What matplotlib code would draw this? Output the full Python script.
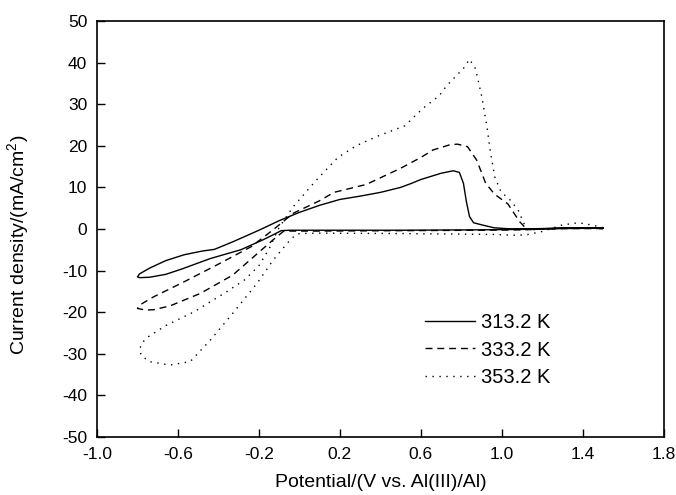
import numpy as np
import matplotlib
matplotlib.use("Agg")
import matplotlib.pyplot as plt

plt.rcParams['font.family'] = ['Liberation Sans', 'DejaVu Sans']
plt.rcParams['mathtext.fontset'] = 'custom'
plt.rcParams['mathtext.rm'] = 'Liberation Sans'
plt.rcParams['mathtext.it'] = 'Liberation Sans:italic'
plt.rcParams['axes.unicode_minus'] = False

# 313.2 K (loop: 1.5 V -> -0.8 V -> 1.5 V)
E_313 = [1.5, 1.3, 1.1, 0.9, 0.5, 0.1, -0.05, -0.09,
         -0.13, -0.18, -0.29, -0.44, -0.58, -0.66, -0.74, -0.79, -0.80,
         -0.79, -0.74, -0.66, -0.57, -0.48, -0.42, -0.33, -0.2, -0.1, 0.0,
         0.1, 0.2, 0.3, 0.4, 0.5, 0.55, 0.6, 0.7, 0.76, 0.79, 0.81, 0.825,
         0.84, 0.86, 0.9, 0.96, 1.05, 1.2, 1.3, 1.4, 1.5]
j_313 = [0.2, 0.1, -0.1, -0.2, -0.3, -0.3, -0.3, -0.4,
         -1.4, -2.6, -5.0, -7.1, -9.6, -10.9, -11.6, -11.7, -11.5,
         -10.8, -9.4, -7.6, -6.2, -5.3, -4.9, -3.1, -0.3, 2.0, 4.0,
         5.7, 7.1, 7.9, 8.8, 10.0, 10.9, 11.9, 13.4, 14.0, 13.6, 11.0, 6.5,
         3.0, 1.5, 1.0, 0.3, 0.0, 0.1, 0.3, 0.3, 0.2]

# 333.2 K
E_333 = [1.5, 1.3, 1.1, 0.9, 0.5, 0.1, -0.05, -0.08,
         -0.13, -0.21, -0.33, -0.49, -0.64, -0.72, -0.76, -0.80,
         -0.79, -0.72, -0.57, -0.41, -0.24, -0.13, -0.03, 0.1, 0.17,
         0.33, 0.5, 0.6, 0.66, 0.74, 0.78, 0.83, 0.875, 0.92, 0.963,
         1.03, 1.087, 1.12, 1.2, 1.3, 1.4, 1.5]
j_333 = [0.1, 0.1, -0.2, -0.3, -0.4, -0.5, -0.5, -0.6,
         -2.6, -6.0, -11.1, -15.5, -18.5, -19.4, -19.5, -19.1,
         -18.3, -16.3, -12.7, -8.7, -4.3, -0.2, 3.8, 6.8, 8.8,
         10.7, 14.6, 17.2, 19.0, 20.2, 20.4, 19.8, 16.6, 11.0, 8.4,
         6.0, 1.8, 0.1, 0.0, 0.2, 0.2, 0.1]

# 353.2 K
E_353 = [1.5, 1.45, 1.38, 1.3, 1.25, 1.2, 1.12, 1.05, 0.95, 0.5, 0.1, 0.0, -0.02,
         -0.06, -0.13, -0.21, -0.33, -0.44, -0.54, -0.64, -0.74, -0.78, -0.79,
         -0.78, -0.75, -0.66, -0.52, -0.36, -0.27, -0.2, -0.15, -0.1, -0.03,
         0.07, 0.1, 0.19, 0.28, 0.38, 0.52, 0.61, 0.69, 0.73, 0.81, 0.84,
         0.87, 0.9, 0.925, 0.945, 0.965, 0.995, 1.04, 1.08, 1.11, 1.13,
         1.2, 1.3, 1.4, 1.5]
j_353 = [0.3, 0.9, 1.5, 1.0, 0.2, -0.6, -1.4, -1.5, -1.3, -1.1, -1.0, -1.1, -1.4,
         -3.4, -7.5, -13.1, -20.3, -26.7, -31.9, -32.7, -31.9, -30.5, -29.1,
         -27.5, -26.0, -23.2, -19.9, -15.1, -12.2, -8.8, -4.8, 0.4, 5.4,
         11.0, 12.6, 17.2, 20.0, 22.2, 24.8, 29.0, 32.0, 34.6, 38.6, 40.8,
         38.5, 32.0, 25.0, 18.0, 12.5, 9.0, 7.0, 4.6, 1.2, -0.3,
         0.0, 0.3, 0.3, 0.3]

temps = ['313.2 K', '333.2 K', '353.2 K']
xticks = [-1.0, -0.6, -0.2, 0.2, 0.6, 1.0, 1.4, 1.8]
yticks = [-50, -40, -30, -20, -10, 0, 10, 20, 30, 40, 50]

fig = plt.figure(figsize=(6.76, 4.95), dpi=100)
ax = fig.add_axes([0.1435, 0.1172, 0.8385, 0.8404])

ax.plot(E_313, j_313, color='k', lw=1.0, ls='-', label=temps[0])
ax.plot(E_333, j_333, color='k', lw=1.0, ls=(0, (5, 3.5)), label=temps[1])
ax.plot(E_353, j_353, color='k', lw=1.0, ls=(0, (1, 4)), label=temps[2])

ax.set_xlim(-1.0, 1.8)
ax.set_ylim(-50, 50)
ax.set_xticks(xticks)
ax.set_xticklabels([f"{t:.1f}" for t in xticks])
ax.set_yticks(yticks)
ax.set_yticklabels([str(t) for t in yticks])
ax.tick_params(direction='in', length=6, width=1.0, labelsize=12.5, pad=7)
for s in ax.spines.values():
    s.set_linewidth(1.2)

ax.set_xlabel('Potential/(V vs. Al(III)/Al)', fontsize=14)
ax.set_ylabel('Current density/(mA/cm$^2$)', fontsize=14)
ax.yaxis.set_label_coords(-0.116, 0.4615)
ax.xaxis.set_label_coords(0.5, -0.089)

ax.legend(loc='center left', bbox_to_anchor=(0.578, 0.209), frameon=False,
          fontsize=14.5, handlelength=2.5, handletextpad=0.3, labelspacing=0.42,
          borderpad=0, borderaxespad=0)

fig.savefig('out.png', dpi=100)
